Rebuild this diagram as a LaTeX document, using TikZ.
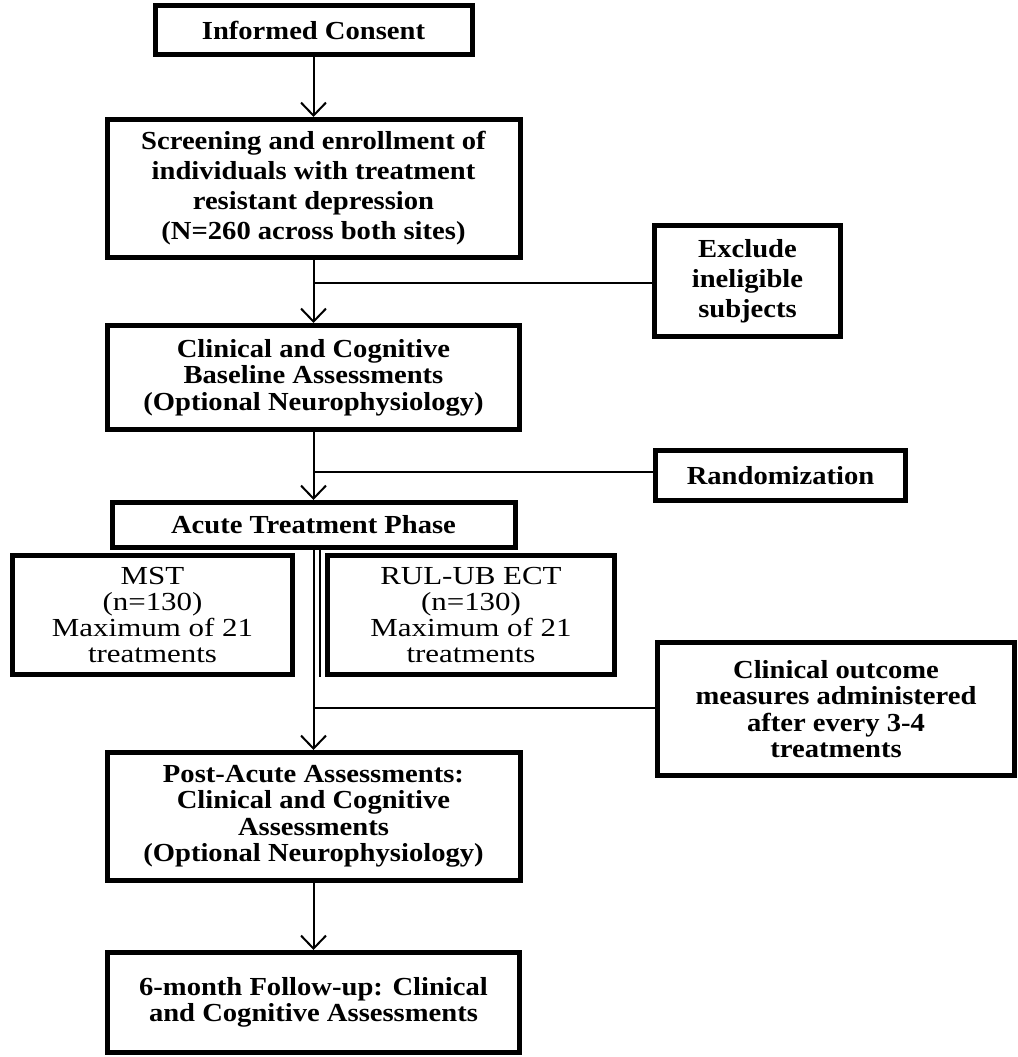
\documentclass[tikz,border=0pt]{standalone}
\usepackage{fontspec}
\setmainfont{Liberation Serif}[FakeStretch=1.19]
\newfontfamily\boldserif{Liberation Serif}[FakeStretch=1.1]
\usetikzlibrary{arrows.meta}
\begin{document}
\begin{tikzpicture}[x=1pt,y=-1pt,
  box/.style={draw, line width=5pt, align=center, inner sep=0pt,
    font=\boldserif\bfseries\fontsize{26}{26.5}\selectfont},
  widebox/.style={box, font=\boldserif\bfseries\fontsize{26}{30}\selectfont},
  armbox/.style={box, font=\rmfamily\mdseries\fontsize{26}{26}\selectfont},
  conn/.style={line width=2pt},
  arr/.style={conn, -{Straight Barb[length=13pt,width=25pt,line width=2pt]}}
]
\useasboundingbox (0,0) rectangle (1017,1057);

\node[box, minimum width=317pt, minimum height=49pt] (ic) at (313.5,30) {Informed Consent};
\node[widebox, minimum width=413pt, minimum height=138pt] (scr) at (313.5,188.5)
  {Screening and enrollment of\\individuals with treatment\\resistant depression\\(N=260 across both sites)};
\node[widebox, minimum width=186pt, minimum height=111pt] (excl) at (747.5,281)
  {Exclude\\ineligible\\subjects};
\node[box, minimum width=412pt, minimum height=104pt] (clin) at (313.5,377.5)
  {Clinical and Cognitive\\Baseline Assessments\\(Optional Neurophysiology)};
\node[box, minimum width=250pt, minimum height=50pt] (rand) at (780.5,475.5) {Randomization};
\node[box, minimum width=403pt, minimum height=45pt] (acute) at (313.5,525) {Acute Treatment Phase};
\node[armbox, minimum width=280pt, minimum height=119pt] (mst) at (152.5,615)
  {MST\\(n=130)\\Maximum of 21\\treatments};
\node[armbox, minimum width=287pt, minimum height=119pt] (rul) at (471,615)
  {RUL-UB ECT\\(n=130)\\Maximum of 21\\treatments};
\node[box, minimum width=357pt, minimum height=133pt] (clout) at (836,709)
  {Clinical outcome\\measures administered\\after every 3-4\\treatments};
\node[box, minimum width=413pt, minimum height=128pt] (post) at (313.5,816.5)
  {Post-Acute Assessments:\\Clinical and Cognitive\\Assessments\\(Optional Neurophysiology)};
\node[box, minimum width=412pt, minimum height=100pt] (six) at (313.5,1002.5)
  {6-month Follow-up: Clinical\\and Cognitive Assessments};

% trunk arrows
\draw[arr] (ic.south) -- (scr.north);
\draw[arr] (scr.south) -- (clin.north);
\draw[arr] (clin.south) -- (acute.north);
\draw[arr] (acute.south) -- (post.north);
\draw[arr] (post.south) -- (six.north);

% side branches
\coordinate (b1) at (313.5,283);
\coordinate (b2) at (313.5,472);
\coordinate (b3) at (313.5,708);
\draw[conn] (b1) -- (b1 -| excl.west);
\draw[conn] (b2) -- (b2 -| rand.west);
\draw[conn] (b3) -- (b3 -| clout.west);

% thin line beside the trunk
\coordinate (t1) at (320,550);
\coordinate (t2) at (320,677);
\draw[line width=1.5pt] (t1) -- (t2);
\end{tikzpicture}
\end{document}
